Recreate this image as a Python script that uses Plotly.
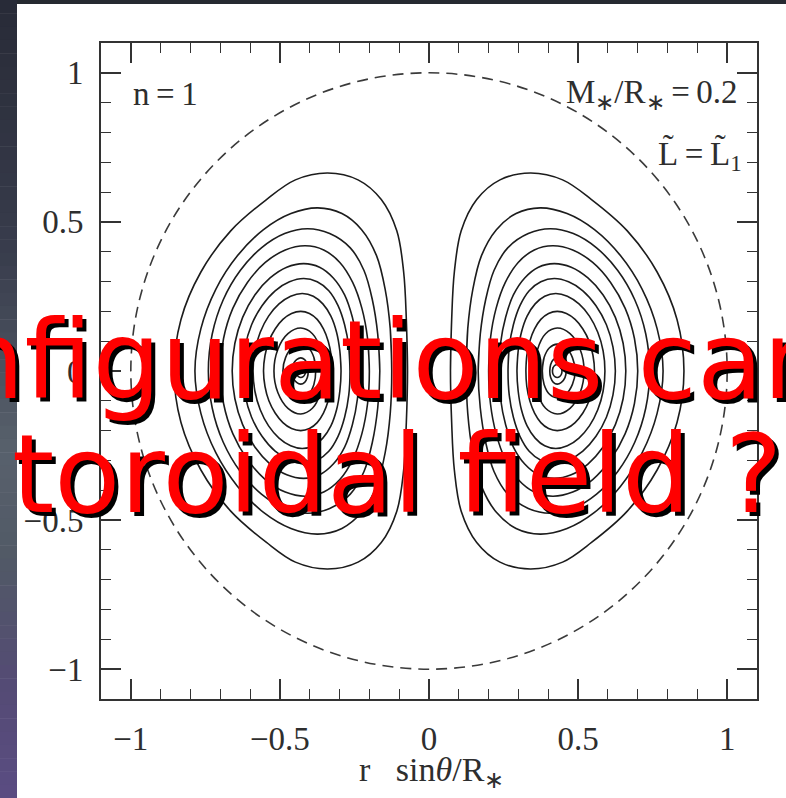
import plotly.graph_objects as go

# Poloidal flux surfaces of one lobe (x >= 0, upper half), each traced from the
# inner equatorial crossing, over the top, to the outer equatorial crossing.
CONTOUR_X = [
    [0.072, 0.076, 0.085, 0.108, 0.160, 0.238, 0.340, 0.448, 0.545, 0.665, 0.765, 0.832, 0.855],
    [0.125, 0.130, 0.147, 0.176, 0.226, 0.292, 0.373, 0.463, 0.555, 0.642, 0.715, 0.765, 0.785],
    [0.165, 0.172, 0.190, 0.218, 0.264, 0.333, 0.407, 0.484, 0.562, 0.633, 0.690, 0.727, 0.740],
    [0.200, 0.206, 0.225, 0.256, 0.299, 0.353, 0.415, 0.482, 0.549, 0.609, 0.658, 0.689, 0.700],
    [0.235, 0.240, 0.257, 0.283, 0.321, 0.367, 0.420, 0.477, 0.533, 0.584, 0.625, 0.651, 0.660],
    [0.265, 0.269, 0.283, 0.305, 0.336, 0.375, 0.420, 0.468, 0.516, 0.560, 0.595, 0.617, 0.625],
    [0.295, 0.299, 0.310, 0.329, 0.356, 0.388, 0.425, 0.464, 0.503, 0.538, 0.566, 0.584, 0.590],
    [0.325, 0.328, 0.338, 0.354, 0.375, 0.401, 0.430, 0.461, 0.490, 0.516, 0.537, 0.550, 0.555],
    [0.355, 0.364, 0.391, 0.430, 0.473, 0.507, 0.520],
    [0.380, 0.386, 0.404, 0.430, 0.459, 0.481, 0.490],
    [0.405, 0.408, 0.417, 0.430, 0.444, 0.456, 0.460],
    [0.414, 0.416, 0.422, 0.430, 0.438, 0.444, 0.446],
]
CONTOUR_Y = [
    [0.000, 0.172, 0.332, 0.470, 0.575, 0.641, 0.664, 0.641, 0.575, 0.470, 0.332, 0.172, 0.000],
    [0.000, 0.142, 0.274, 0.387, 0.474, 0.528, 0.547, 0.528, 0.474, 0.387, 0.274, 0.142, 0.000],
    [0.000, 0.124, 0.239, 0.337, 0.413, 0.461, 0.477, 0.461, 0.413, 0.337, 0.239, 0.124, 0.000],
    [0.000, 0.109, 0.210, 0.297, 0.364, 0.406, 0.420, 0.406, 0.364, 0.297, 0.210, 0.109, 0.000],
    [0.000, 0.093, 0.180, 0.255, 0.312, 0.348, 0.360, 0.348, 0.312, 0.255, 0.180, 0.093, 0.000],
    [0.000, 0.080, 0.155, 0.219, 0.269, 0.299, 0.310, 0.299, 0.269, 0.219, 0.155, 0.080, 0.000],
    [0.000, 0.067, 0.130, 0.184, 0.225, 0.251, 0.260, 0.251, 0.225, 0.184, 0.130, 0.067, 0.000],
    [0.000, 0.052, 0.100, 0.141, 0.173, 0.193, 0.200, 0.193, 0.173, 0.141, 0.100, 0.052, 0.000],
    [0.000, 0.072, 0.125, 0.144, 0.125, 0.072, 0.000],
    [0.000, 0.045, 0.078, 0.090, 0.078, 0.045, 0.000],
    [0.000, 0.022, 0.038, 0.044, 0.038, 0.022, 0.000],
    [0.000, 0.011, 0.019, 0.022, 0.019, 0.011, 0.000],
]
STAR_RADIUS = 1.0
AXIS_RANGE = [-1.1, 1.1]
TICK_STEP = 0.5
MINOR_STEP = 0.1

W, H = 786, 798
L, R, T, B = 101, 29, 43, 99
PW, PH = W - L - R, H - T - B


def px(xp):
    return (xp - L) / PW


def py(yp):
    return 1 - (yp - T) / PH


def closed_loop(xs, ys, sign):
    upper = list(zip(xs, ys))
    lower = [(x, -y) for x, y in list(reversed(upper))[1:]]
    pts = upper + lower + [upper[1]]
    return [sign * p[0] for p in pts], [p[1] for p in pts]


fig = go.Figure()

for xs, ys in zip(CONTOUR_X, CONTOUR_Y):
    for sign in (1, -1):
        lx, ly = closed_loop(xs, ys, sign)
        fig.add_trace(go.Scatter(
            x=lx, y=ly, mode="lines",
            line=dict(color="#1c1c1c", width=1.6, shape="spline", smoothing=1.0),
            hoverinfo="skip", showlegend=False,
        ))

shapes = []
# stellar surface
shapes.append(dict(
    type="circle", xref="x", yref="y",
    x0=-STAR_RADIUS, y0=-STAR_RADIUS, x1=STAR_RADIUS, y1=STAR_RADIUS,
    line=dict(color="#3a3a3a", width=1.6, dash="11px,7px"),
))

# dark slide border on the left (graded) and along the top
stops = [(0, (40, 43, 55)), (250, (56, 60, 76)), (450, (88, 97, 108)),
         (560, (81, 89, 102)), (680, (84, 75, 116)), (798, (90, 76, 130))]
n_strips = 60
for i in range(n_strips):
    y0 = H * i / n_strips
    y1 = H * (i + 1) / n_strips
    ym = (y0 + y1) / 2
    for (a, ca), (b, cb) in zip(stops[:-1], stops[1:]):
        if a <= ym <= b:
            t = (ym - a) / (b - a)
            c = tuple(int(round(ca[k] + (cb[k] - ca[k]) * t)) for k in range(3))
            break
    shapes.append(dict(
        type="rect", xref="paper", yref="paper", layer="below",
        x0=px(0), x1=px(17), y0=py(y1 + 0.5), y1=py(y0),
        fillcolor="rgb(%d,%d,%d)" % c, line=dict(width=0),
    ))
shapes.append(dict(
    type="rect", xref="paper", yref="paper", layer="below",
    x0=px(17), x1=px(W), y0=py(4), y1=py(0),
    fillcolor="#262a31", line=dict(width=0),
))

serif = "Liberation Serif"
ink = "#2e2e2e"
annotations = [
    dict(text="n\u2009=\u20091", x=px(131), y=py(94), xanchor="left", yanchor="middle",
         font=dict(family=serif, size=33, color=ink)),
    dict(text="M<sub>\u2217</sub>/R<sub>\u2217</sub>\u2009=\u20090.2", x=px(740), y=py(94),
         xanchor="right", yanchor="middle", font=dict(family=serif, size=33, color=ink)),
    dict(text="L\u0303\u2009=\u2009L\u0303<sub>1</sub>", x=px(744), y=py(155),
         xanchor="right", yanchor="middle", font=dict(family=serif, size=33, color=ink)),
    dict(text="r\u2002 sin<i>θ</i>/R<sub>\u2217</sub>", x=px(431), y=py(772),
         xanchor="center", yanchor="middle", font=dict(family=serif, size=34, color=ink)),
]

# headline over the chart, with a drop shadow
big = dict(family="DejaVu Sans", size=108)
for text, xl, ytop in (("nfigurations car", -46, 296), ("toroidal field ?", 10, 410)):
    for dx, col in ((4, "#000000"), (0, "#ff0000")):
        annotations.append(dict(
            text=text, x=px(xl + dx), y=py(ytop + dx), xanchor="left", yanchor="top",
            showarrow=False, font=dict(color=col, **big),
        ))

for a in annotations:
    a.setdefault("showarrow", False)
    a["xref"] = "paper"
    a["yref"] = "paper"

axis_common = dict(
    range=AXIS_RANGE, showgrid=False, zeroline=False,
    showline=True, linecolor="#333333", linewidth=2, mirror="allticks",
    ticks="inside", ticklen=20, tickwidth=1.6, tickcolor="#333333",
    tick0=0, dtick=TICK_STEP,
    minor=dict(ticks="inside", ticklen=10, tickwidth=1.4, tickcolor="#333333",
               tick0=0, dtick=MINOR_STEP, showgrid=False),
    tickfont=dict(family=serif, size=33, color=ink),
    ticklabelstandoff=9,
)

fig.update_layout(
    width=W, height=H,
    margin=dict(l=L, r=R, t=T, b=B, pad=0),
    paper_bgcolor="white", plot_bgcolor="rgba(0,0,0,0)",
    xaxis=dict(**axis_common),
    yaxis=dict(**axis_common),
    shapes=shapes, annotations=annotations,
    showlegend=False,
)

fig.write_html("out.html", config={"displayModeBar": False})
